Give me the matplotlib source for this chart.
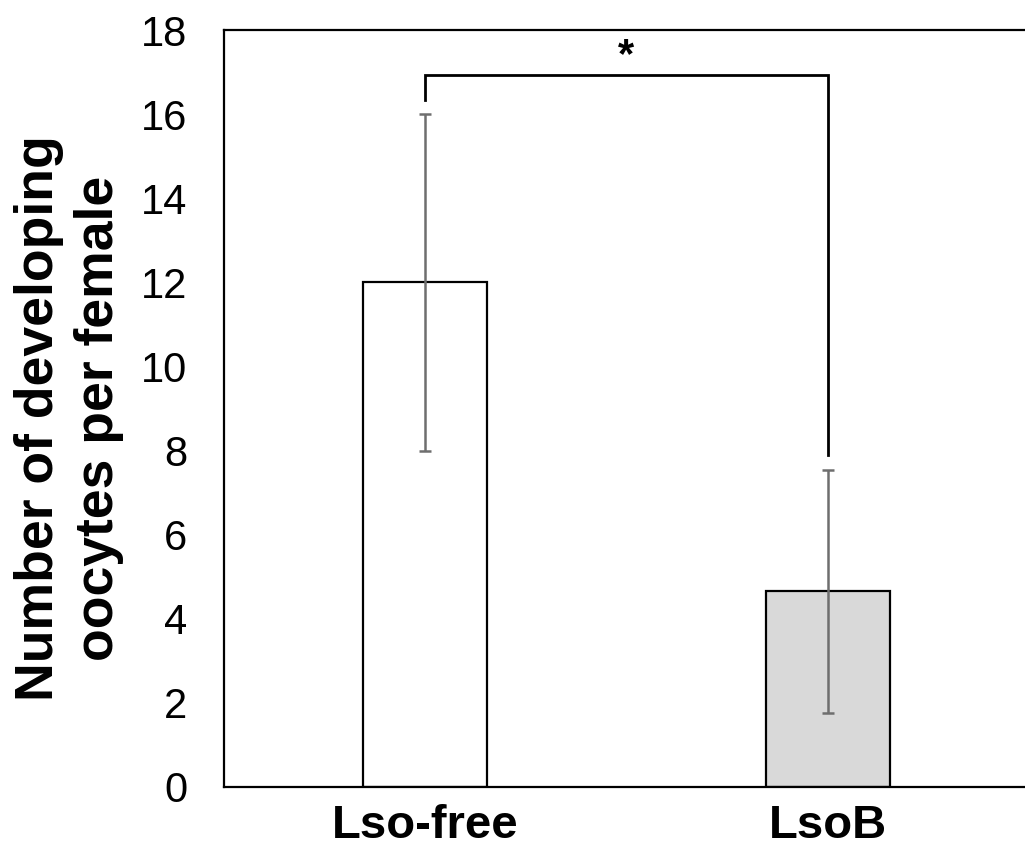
import matplotlib
matplotlib.use("Agg")
import matplotlib.pyplot as plt

categories = ["Lso-free", "LsoB"]
means = [12.0, 4.65]
errors = [4.0, 2.88]
bar_colors = ["#ffffff", "#d9d9d9"]
yticks = [0, 2, 4, 6, 8, 10, 12, 14, 16, 18]
bracket_top = 16.93
bracket_left_end = 16.33
bracket_right_end = 7.9
sig_label = "*"

plt.rcParams['font.family'] = ['Liberation Sans', 'DejaVu Sans']

fig = plt.figure(figsize=(10.25, 8.56), dpi=100)
ax = fig.add_axes([223.5/1025, 69/856, 806/1025, 757/856])

x = list(range(len(categories)))
ax.bar(x, means, width=0.31, color=bar_colors, edgecolor="black", linewidth=1.6, zorder=2)
ax.errorbar(x, means, yerr=errors, fmt="none", ecolor="#6e6e6e", elinewidth=1.8,
            capsize=4.5, capthick=1.8, zorder=3)

ax.plot([x[0], x[0], x[1], x[1]],
        [bracket_left_end, bracket_top, bracket_top, bracket_right_end],
        color="black", linewidth=2.0, zorder=4, solid_joinstyle="miter")
ax.text((x[0] + x[1]) / 2, bracket_top + 0.45, sig_label, ha="center", va="center",
        fontsize=30, fontweight="bold")

ax.set_xlim(-0.5, 1.5)
ax.set_ylim(0, 18)
ax.set_yticks(yticks)
ax.set_yticklabels([str(t) for t in yticks], fontsize=30)
ax.set_xticks(x)
ax.set_xticklabels(categories, fontsize=34, fontweight="bold")
ax.tick_params(axis="y", length=0, pad=26)
ax.tick_params(axis="x", length=0, pad=12)
for s in ax.spines.values():
    s.set_linewidth(1.6)
    s.set_color("black")
ax.spines["right"].set_visible(False)

fig.text(69/1025, 1 - 418/856, "Number of developing\noocytes per female",
         rotation=90, ha="center", va="center", fontsize=38.5, fontweight="bold",
         linespacing=1.25, multialignment="center")

fig.savefig("out.png", dpi=100)
